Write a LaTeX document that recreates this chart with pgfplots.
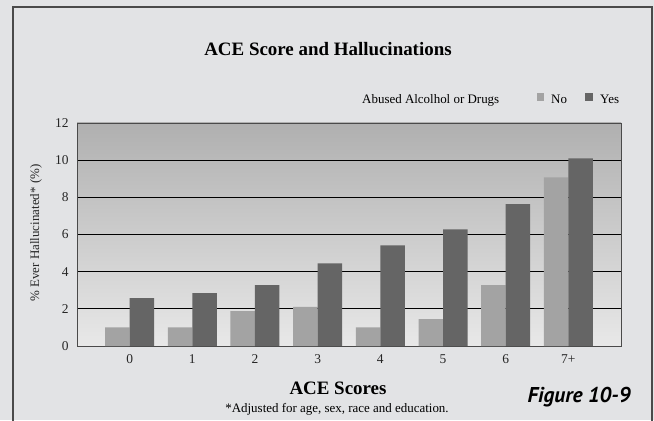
\documentclass[border=0pt]{standalone}
\usepackage{fontspec}
\setmainfont{Liberation Serif}
\newfontfamily\figfont{PT Sans}
\usepackage{pgfplots}
\pgfplotsset{compat=1.18}
\definecolor{bgc}{HTML}{E2E3E5}
\definecolor{nocol}{HTML}{A3A3A3}
\definecolor{yescol}{HTML}{656565}
\definecolor{framec}{HTML}{4A4A4A}
\begin{document}
\begin{tikzpicture}[x=1bp,y=1bp]
\path[use as bounding box] (0,0) rectangle (654,420);
\fill[bgc] (0,0) rectangle (654,420);
\draw[framec, line width=1.6bp] (13,-5) -- (13,413) -- (652,413) -- (652,-5);
\begin{axis}[
  at={(77bp,74bp)}, anchor=south west,
  scale only axis, width=544bp, height=223bp,
  xmin=-0.84, xmax=7.84, ymin=0, ymax=12,
  ytick={0,2,...,12},
  xtick={0,...,7},
  xticklabels={0,1,2,3,4,5,6,7+},
  major tick length=0pt,
  ymajorgrids, grid style={black, line width=0.8bp},
  axis line style={framec, line width=0.9bp},
  axis background/.style={shade, top color=black!31, bottom color=black!9},
  ybar=0pt, bar width=24.5bp,
  /pgf/number format/assume math mode=true,
  tick label style={font=\fontsize{13.5}{15}\selectfont, black!85},
  yticklabel style={xshift=-5bp},
  xticklabel style={yshift=-5bp},
  clip=false,
]
\addplot[fill=nocol, draw=none] coordinates {(0,1.0) (1,1.0) (2,1.88) (3,2.1) (4,1.0) (5,1.44) (6,3.27) (7,9.08)};
\addplot[fill=yescol, draw=none] coordinates {(0,2.57) (1,2.84) (2,3.27) (3,4.45) (4,5.42) (5,6.28) (6,7.63) (7,10.1)};
\end{axis}
\node[rotate=90, font=\fontsize{13}{15}\selectfont, text=black!85] at (36,187) {\% Ever Hallucinated* (\%)};
\node[anchor=base, font=\fontsize{19}{22}\selectfont\bfseries] at (328,365) {ACE Score and Hallucinations};
\node[anchor=base west, font=\fontsize{13}{15}\selectfont, inner sep=0pt] at (362,317) {Abused Alcolhol or Drugs};
\fill[nocol] (537,319) rectangle (544,327);
\node[anchor=base west, font=\fontsize{13}{15}\selectfont, inner sep=0pt] at (551,317) {No};
\fill[yescol] (585,319) rectangle (593,327);
\node[anchor=base west, font=\fontsize{13}{15}\selectfont, inner sep=0pt] at (600,317) {Yes};
\node[anchor=base, font=\fontsize{19}{22}\selectfont\bfseries] at (338,26) {ACE Scores};
\node[anchor=base, font=\fontsize{13}{15}\selectfont] at (337,8) {*Adjusted for age, sex, race and education.};
\node[anchor=base, font=\fontsize{21.5}{24}\selectfont\figfont\bfseries\itshape, inner sep=0pt] at (579,18) {Figure 10-9};
\end{tikzpicture}
\end{document}
